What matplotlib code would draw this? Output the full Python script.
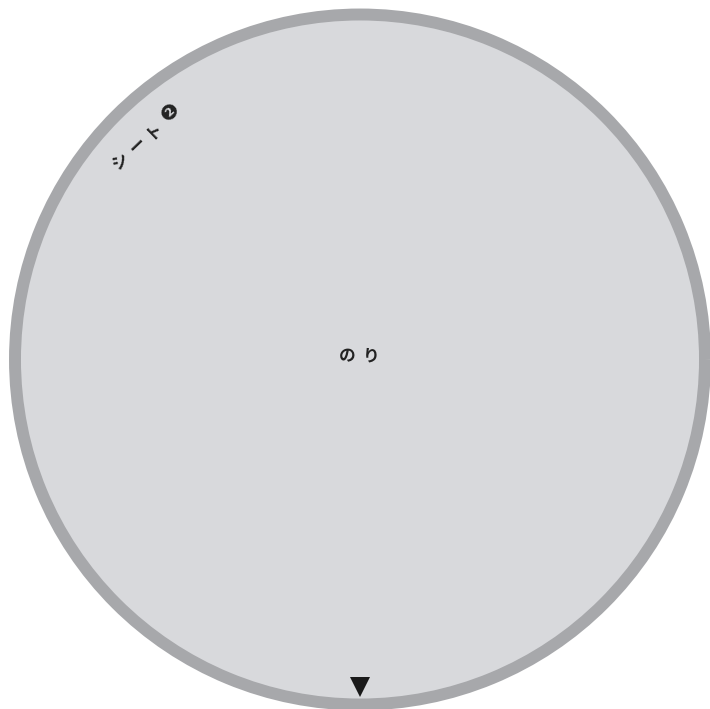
import matplotlib.pyplot as plt
import numpy as np

plt.rcParams['font.family'] = ['Noto Sans CJK JP', 'DejaVu Sans']

# one slice on the wheel
slice_names = ["のり"]
slice_values = [1]
sheet_label = "シート❷"

cx, cy = 360, 359.5
r = 345

fig = plt.figure(figsize=(7.1, 7.09), dpi=100)
ax = fig.add_axes([0, 0, 1, 1])

ax.pie(slice_values, radius=r, center=(cx, cy), startangle=90,
       colors=['#d8d9dc'],
       wedgeprops=dict(edgecolor='#a7a8ab', linewidth=8.6))

ax.set_xlim(0, 710)
ax.set_ylim(709, 0)
ax.set_aspect('equal')
ax.axis('off')

# slice name in the middle, spread out a bit
name = slice_names[0]
for i, ch in enumerate(name):
    k = i - (len(name) - 1) / 2
    ax.text(cx - 1 + k * 24, cy - 3, ch, ha='center', va='center',
            fontsize=12, fontweight='bold', color='#222222')

# sheet label along the rim, upper left
ang = np.deg2rad(134)
lr = 309
lx, ly = cx + lr * np.cos(ang), cy - lr * np.sin(ang)
step = 23
chars = list(sheet_label)
for i, ch in enumerate(chars):
    k = i - (len(chars) - 1) / 2
    px = lx + k * step * np.cos(np.deg2rad(44))
    py = ly - k * step * np.sin(np.deg2rad(44))
    ax.text(px, py, ch, ha='center', va='center', rotation=44,
            fontsize=12, fontweight='bold', color='#222222')

# pointer at the bottom
ax.plot([cx - 0.5], [cy + r - 18], marker='v', ms=14.5, color='#1a1a1a', mew=0)

fig.savefig('out.png', dpi=100)
